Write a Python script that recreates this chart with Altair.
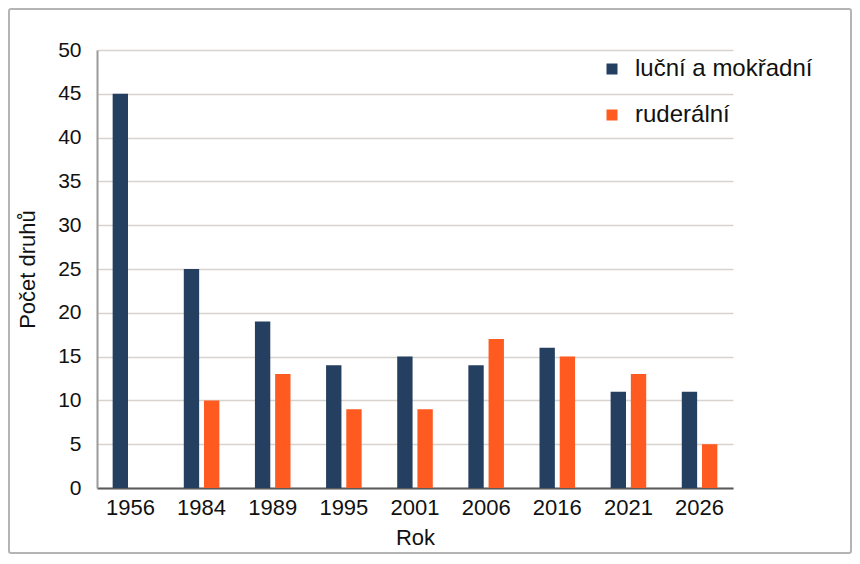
import altair as alt
import pandas as pd

years = ["1956", "1984", "1989", "1995", "2001", "2006", "2016", "2021", "2026"]
luční = [45, 25, 19, 14, 15, 14, 16, 11, 11]
ruderální = [None, 10, 13, 9, 9, 17, 15, 13, 5]
series = ["luční a mokřadní", "ruderální"]
colors = ["#243f60", "#ff5a1f"]

rows = []
for i, y in enumerate(years):
    rows.append({"Rok": y, "typ": series[0], "pocet": luční[i]})
    rows.append({"Rok": y, "typ": series[1], "pocet": ruderální[i]})
df = pd.DataFrame(rows)

FONT = "Liberation Sans"

bars = alt.Chart(df).mark_bar().encode(
    x=alt.X("Rok:N", sort=years,
            scale=alt.Scale(paddingInner=0.5, paddingOuter=0.22),
            axis=alt.Axis(title="Rok", labelAngle=0, ticks=False, grid=False,
                          labelFontSize=22, labelPadding=9, titleFontSize=22,
                          titlePadding=9, titleFontWeight="normal",
                          domainColor="#5a5a5a", domainWidth=2,
                          labelColor="#111", titleColor="#111",
                          labelFont=FONT, titleFont=FONT)),
    xOffset=alt.XOffset("typ:N", sort=series,
                        scale=alt.Scale(domain=series, paddingInner=0.24, paddingOuter=0)),
    y=alt.Y("pocet:Q",
            scale=alt.Scale(domain=[0, 50]),
            axis=alt.Axis(title="Počet druhů", values=list(range(0, 51, 5)), ticks=False,
                          grid=True, labelFontSize=21, labelPadding=16, titleFontSize=22,
                          titlePadding=18, titleFontWeight="normal",
                          gridColor="#d9d3cd", gridWidth=1.5, domainColor="#9a9a9a",
                          domainWidth=2, labelColor="#111", titleColor="#111",
                          labelFont=FONT, titleFont=FONT)),
    color=alt.Color("typ:N", sort=series,
                    scale=alt.Scale(domain=series, range=colors),
                    legend=alt.Legend(title=None, orient="none", legendX=503, legendY=7,
                                      padding=0, symbolType="square", symbolSize=121,
                                      symbolStrokeWidth=0, labelFontSize=24,
                                      labelFont=FONT, labelColor="#111",
                                      labelLimit=400, labelOffset=11, rowPadding=22)),
)

border = alt.Chart(alt.Data(values=[{"a": 1}])).mark_rect(
    fill="transparent", stroke="#b4b4b4", strokeWidth=2, cornerRadius=2
).encode(
    x=alt.value(-88), x2=alt.value(754), y=alt.value(-41), y2=alt.value(503)
)

chart = alt.layer(border, bars).properties(
    width=636, height=438,
    view=alt.ViewBackground(stroke=None, strokeWidth=0),
    autosize=alt.AutoSizeParams(type="none"),
    padding={"left": 89, "top": 42, "right": 119, "bottom": 66},
).configure_view(stroke=None, strokeWidth=0)

chart.save("out.html", embed_options={"renderer": "svg", "actions": False})
